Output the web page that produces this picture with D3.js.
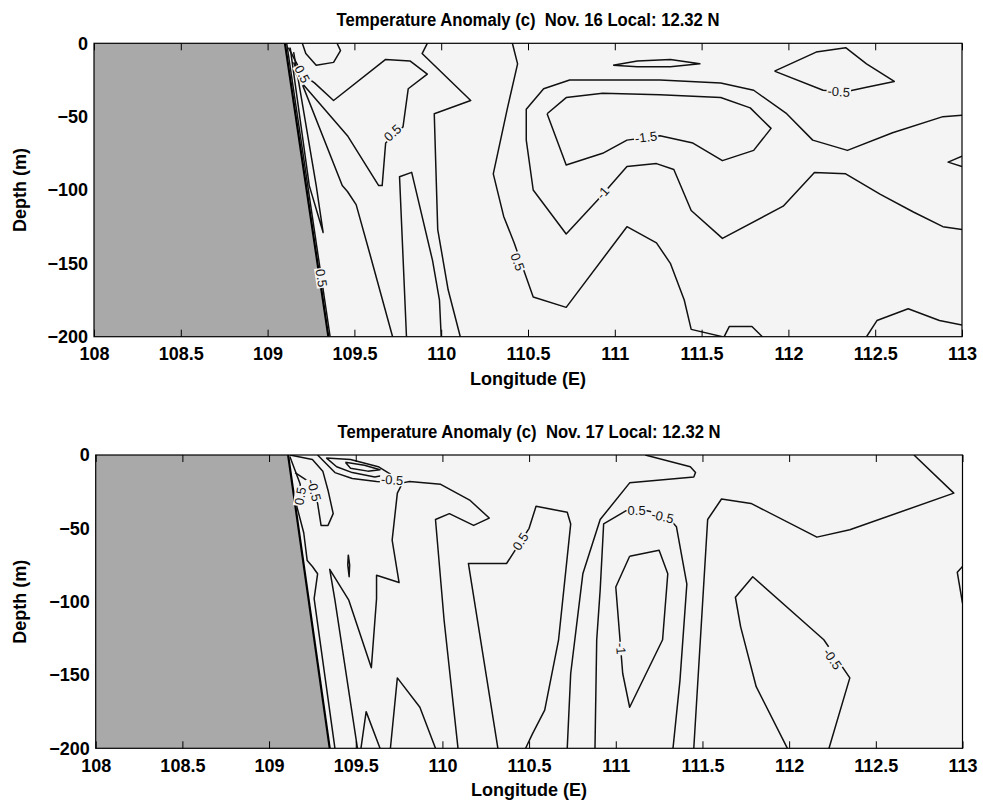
<!DOCTYPE html>
<html>
<head>
<meta charset="utf-8">
<script src="https://cdn.jsdelivr.net/npm/d3@7"></script>
<style>
body { margin: 0; background: #fff; }
text { font-family: "Liberation Sans", Arial, Helvetica, sans-serif; }
.title { white-space: pre; }
</style>
</head>
<body>
<script>
//Size of the picture
var width = 983;
var height = 809;

//Axis ticks
var lonTicks = [108, 108.5, 109, 109.5, 110, 110.5, 111, 111.5, 112, 112.5, 113];
var depthTicks = [0, -50, -100, -150, -200];

var titles = ["Temperature Anomaly (c)  Nov. 16 Local: 12.32 N",
              "Temperature Anomaly (c)  Nov. 17 Local: 12.32 N"];

//Coast line (lon at surface, lon at -200 m)
var coast16 = [[109.10, 0], [109.35, -200]];
var coast17 = [[109.11, 0], [109.35, -200]];

//Contour lines, Nov. 16, points are [lon, depth]
var nov16Lines = [
    [[109.11, 0], [109.36, -200]],
    [[109.12, -3], [109.20, -21], [109.27, -27], [109.38, -39], [109.68, -11], [109.82, -12], [109.92, -21],
     [109.81, -31], [109.78, -57], [109.68, -68], [109.66, -97], [109.64, -97], [109.46, -63], [109.19, -26], [109.15, -18]],
    [[109.20, 0], [109.22, -7], [109.28, -15], [109.38, -13], [109.42, -5], [109.40, 0]],
    [[109.13, -3], [109.24, -97], [109.32, -129], [109.28, -97], [109.15, -6]],
    [[109.15, -13], [109.43, -97], [109.46, -101], [109.51, -110], [109.59, -144], [109.72, -200]],
    [[109.80, -200], [109.76, -91], [109.83, -88], [109.95, -148], [109.99, -175], [110.00, -200]],
    [[109.92, 0], [109.89, -7], [110.17, -39], [109.96, -48], [109.98, -127], [110.04, -168], [110.11, -200]],
    [[110.41, 0], [110.44, -14], [110.38, -45], [110.30, -89], [110.36, -118], [110.42, -136], [110.53, -173],
     [110.72, -180], [111.07, -125], [111.24, -136], [111.32, -150], [111.40, -175], [111.44, -195], [111.62, -200]],
    [[111.63, -200], [111.66, -193], [111.79, -193], [111.85, -200]],
    [[112.45, -200], [112.51, -189], [112.69, -181], [112.87, -189], [113.00, -192]],
    [[113.00, -49], [112.89, -50], [112.60, -61], [112.34, -73], [112.14, -66], [111.99, -48], [111.80, -32],
     [111.61, -27], [111.26, -25], [110.93, -25], [110.74, -25], [110.59, -31], [110.49, -45], [110.49, -66],
     [110.53, -100], [110.72, -130], [110.90, -107], [111.07, -84], [111.24, -82], [111.34, -86], [111.44, -114],
     [111.62, -133], [111.97, -111], [112.15, -88], [112.33, -89], [112.53, -103], [112.72, -115], [112.89, -125], [113.00, -127]],
    [[110.61, -48], [110.72, -37], [110.93, -34], [111.26, -35], [111.61, -37], [111.78, -44], [111.90, -58],
     [111.80, -73], [111.62, -80], [111.45, -68], [111.26, -63], [111.07, -66], [110.93, -75], [110.72, -83], [110.61, -48]],
    [[110.99, -15], [111.13, -12], [111.32, -11], [111.49, -14], [111.32, -16], [111.13, -16], [110.99, -15]],
    [[111.92, -19], [112.16, -6], [112.33, -3], [112.45, -14], [112.61, -26], [112.45, -30], [112.33, -33], [112.20, -32], [111.92, -19]],
    [[113.00, -77], [112.92, -81], [113.00, -84]]
];
var nov16Labels = [
    ["0.5", 109.20, -21], ["0.5", 109.72, -61], ["0.5", 109.31, -160], ["0.5", 110.44, -149],
    ["-1", 110.93, -102], ["-1.5", 111.18, -64], ["-0.5", 112.29, -33]
];

//Contour lines, Nov. 17
var nov17Lines = [
    [[109.12, 0], [109.25, -3], [109.31, -11], [109.34, -24], [109.37, -40], [109.34, -48], [109.30, -48],
     [109.28, -33], [109.26, -24], [109.24, -19], [109.15, -12]],
    [[109.12, -1], [109.18, -20], [109.16, -35], [109.20, -53], [109.22, -72], [109.25, -76], [109.28, -81],
     [109.26, -98], [109.38, -200]],
    [[109.33, -2], [109.47, -3], [109.63, -8], [109.70, -13], [109.61, -15], [109.48, -12], [109.39, -8], [109.33, -2]],
    [[109.44, -5], [109.55, -7], [109.64, -10], [109.57, -11], [109.47, -9], [109.44, -5]],
    [[109.28, 0], [109.38, -12], [109.48, -16], [109.62, -18], [109.77, -19], [109.81, -18], [109.99, -20],
     [110.16, -31], [110.27, -43], [110.18, -48], [110.04, -40], [109.96, -44], [110.01, -113], [110.09, -200]],
    [[109.77, -19], [109.74, -26], [109.71, -58], [109.75, -87], [109.62, -82], [109.62, -98], [109.59, -145],
     [109.46, -99], [109.35, -78], [109.38, -99], [109.51, -200]],
    [[109.457, -68], [109.465, -75], [109.462, -83], [109.454, -75], [109.457, -68]],
    [[109.53, -200], [109.56, -175], [109.64, -200]],
    [[109.70, -200], [109.74, -152], [109.87, -172], [109.96, -200]],
    [[110.32, -200], [110.15, -74], [110.37, -74], [110.50, -50], [110.54, -35], [110.72, -39], [110.74, -47],
     [110.67, -126], [110.59, -174], [110.52, -190], [110.48, -200]],
    [[110.72, -200], [110.74, -149], [110.81, -81], [110.91, -44], [111.08, -19], [111.45, -15], [111.46, -12],
     [111.43, -8], [111.17, 0]],
    [[110.88, -200], [110.89, -126], [110.91, -92], [110.93, -47], [111.06, -38], [111.18, -38], [111.29, -41],
     [111.35, -49], [111.41, -88], [111.37, -154], [111.33, -200]],
    [[111.08, -69], [111.25, -65], [111.30, -81], [111.27, -126], [111.08, -172], [111.04, -149], [111.00, -90], [111.08, -69]],
    [[111.45, -200], [111.53, -44], [111.61, -30], [111.78, -33], [112.16, -56], [112.35, -51], [112.95, -26], [112.72, 0]],
    [[111.99, -200], [111.81, -158], [111.72, -117], [111.69, -97], [111.79, -83], [112.20, -126], [112.35, -152], [112.23, -200]],
    [[113.00, -76], [112.97, -80], [113.00, -101]]
];
var nov17Labels = [
    ["-0.5", 109.26, -24], ["0.5", 109.18, -28], ["-0.5", 109.71, -17], ["0.5", 110.45, -59],
    ["0.5", 111.12, -38], ["-0.5", 111.27, -42], ["-1", 111.03, -132], ["-0.5", 112.25, -139]
];

var panels = [
    {title: titles[0], coast: coast16, lines: nov16Lines, labels: nov16Labels,
     left: 94, right: 962, top: 43.3, bottom: 336.7},
    {title: titles[1], coast: coast17, lines: nov17Lines, labels: nov17Labels,
     left: 95.7, right: 962.5, top: 455, bottom: 748.3}
];

var bg = "#f4f4f4";

//Create SVG element
var svg = d3.select("body")
            .append("svg")
            .attr("width", width)
            .attr("height", height);

var fmt = function(d) { return String(d).replace("-", "\u2212"); };

panels.forEach(function(p, k) {
    var x = d3.scaleLinear().domain([108, 113]).range([p.left, p.right]);
    var y = d3.scaleLinear().domain([0, -200]).range([p.top, p.bottom]);
    var line = d3.line()
        .x(function(d) { return x(d[0]); })
        .y(function(d) { return y(d[1]); });

    var g = svg.append("g");

    g.append("clipPath")
        .attr("id", "clip" + k)
      .append("rect")
        .attr("x", p.left).attr("y", p.top)
        .attr("width", p.right - p.left).attr("height", p.bottom - p.top);

    var plot = g.append("g").attr("clip-path", "url(#clip" + k + ")");

    plot.append("rect")
        .attr("x", p.left).attr("y", p.top)
        .attr("width", p.right - p.left).attr("height", p.bottom - p.top)
        .attr("fill", bg);

    //Land
    var land = [[108, 0], p.coast[0], p.coast[1], [108, -200]];
    plot.append("path")
        .attr("d", line(land) + "Z")
        .attr("fill", "#a9a9a9")
        .attr("stroke", "none");
    plot.append("path")
        .attr("d", line(p.coast))
        .attr("fill", "none")
        .attr("stroke", "#000")
        .attr("stroke-width", 2.2);

    //Contour lines
    plot.selectAll("path.contour")
        .data(p.lines)
        .enter().append("path")
        .attr("class", "contour")
        .attr("d", line)
        .attr("fill", "none")
        .attr("stroke", "#111")
        .attr("stroke-width", 1.5)
        .attr("stroke-linejoin", "round");

    //Contour labels, turned along the nearest segment
    p.labels.forEach(function(lab) {
        var px = x(lab[1]), py = y(lab[2]);
        var best = Infinity, ang = 0;
        p.lines.forEach(function(pts) {
            for (var i = 0; i < pts.length - 1; i++) {
                var ax = x(pts[i][0]), ay = y(pts[i][1]);
                var bx = x(pts[i + 1][0]), by = y(pts[i + 1][1]);
                var dx = bx - ax, dy = by - ay;
                var t = ((px - ax) * dx + (py - ay) * dy) / (dx * dx + dy * dy || 1);
                t = Math.max(0, Math.min(1, t));
                var ex = ax + t * dx - px, ey = ay + t * dy - py;
                var dist = ex * ex + ey * ey;
                if (dist < best) { best = dist; ang = Math.atan2(dy, dx) * 180 / Math.PI; }
            }
        });
        if (ang > 90) ang -= 180;
        if (ang <= -90) ang += 180;
        var lg = plot.append("g")
            .attr("transform", "translate(" + px + "," + py + ") rotate(" + ang + ")");
        var r = lg.append("rect").attr("fill", bg);
        var t = lg.append("text")
            .attr("text-anchor", "middle")
            .attr("dy", "0.35em")
            .attr("font-size", 13)
            .attr("fill", "#111")
            .text(lab[0]);
        var w = t.node().getComputedTextLength();
        r.attr("x", -w / 2 - 1).attr("y", -6).attr("width", w + 2).attr("height", 12);
    });

    //Frame
    g.append("rect")
        .attr("x", p.left).attr("y", p.top)
        .attr("width", p.right - p.left).attr("height", p.bottom - p.top)
        .attr("fill", "none")
        .attr("stroke", "#000")
        .attr("stroke-width", 1.2);

    //Axes
    var xb = g.append("g")
        .attr("transform", "translate(0," + p.bottom + ")")
        .call(d3.axisBottom(x).tickValues(lonTicks).tickSize(-7).tickPadding(11).tickFormat(fmt));
    var xt = g.append("g")
        .attr("transform", "translate(0," + p.top + ")")
        .call(d3.axisTop(x).tickValues(lonTicks).tickSize(-7).tickFormat(""));
    var yl = g.append("g")
        .attr("transform", "translate(" + p.left + ",0)")
        .call(d3.axisLeft(y).tickValues(depthTicks).tickSize(0).tickPadding(6).tickFormat(fmt));
    [xb, xt, yl].forEach(function(a) {
        a.select(".domain").remove();
        a.selectAll("text")
            .attr("font-family", "Liberation Sans, Arial, sans-serif")
            .attr("font-size", 18)
            .attr("font-weight", "bold")
            .attr("fill", "#000");
        a.selectAll("line").attr("stroke", "#000");
    });

    var cx = (p.left + p.right) / 2;
    g.append("text")
        .attr("class", "title")
        .attr("x", cx).attr("y", p.top - 17)
        .attr("text-anchor", "middle")
        .attr("font-size", 18)
        .attr("font-weight", "bold")
        .attr("textLength", 383)
        .attr("lengthAdjust", "spacingAndGlyphs")
        .text(p.title);

    g.append("text")
        .attr("x", cx).attr("y", p.bottom + 48)
        .attr("text-anchor", "middle")
        .attr("font-size", 18)
        .attr("font-weight", "bold")
        .text("Longitude (E)");

    g.append("text")
        .attr("transform", "translate(26," + ((p.top + p.bottom) / 2) + ") rotate(-90)")
        .attr("text-anchor", "middle")
        .attr("font-size", 18)
        .attr("font-weight", "bold")
        .text("Depth (m)");
});
</script>
</body>
</html>
